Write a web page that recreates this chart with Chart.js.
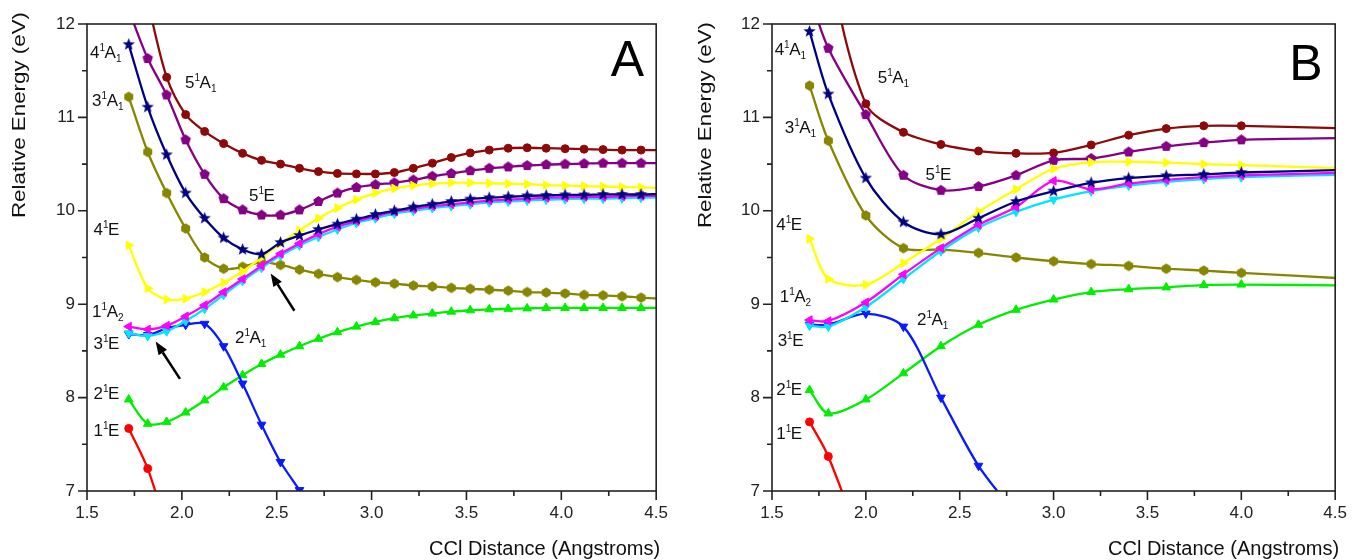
<!DOCTYPE html>
<html>
<head>
<meta charset="utf-8">
<script src="https://cdn.jsdelivr.net/npm/chart.js@4.4.1/dist/chart.umd.min.js"></script>
<style>
  body { margin: 0; background: #fff; }
  #wrap { display: flex; width: 1359px; height: 560px; }
  canvas { display: block; }
</style>
</head>
<body>
<div id="wrap">
  <canvas id="panelA" width="680" height="560"></canvas>
  <canvas id="panelB" width="679" height="560"></canvas>
</div>
<script>
const FONT = "'Liberation Sans', Arial, sans-serif"

// Panel A: C-Cl distance every 0.1 A (last point sits past the axis so curves reach the frame)
const distA = [1.72, 1.82, 1.92, 2.02, 2.12, 2.22, 2.32, 2.42, 2.52, 2.62, 2.72, 2.82, 2.92, 3.02, 3.12, 3.22, 3.32, 3.42, 3.52, 3.62, 3.72, 3.82, 3.92, 4.02, 4.12, 4.22, 4.32, 4.42, 4.52]
const a_1E = [7.67, 7.24, 6.6]
const a_2E = [7.98, 7.72, 7.74, 7.84, 7.97, 8.11, 8.24, 8.36, 8.46, 8.55, 8.63, 8.70, 8.76, 8.81, 8.85, 8.88, 8.90, 8.92, 8.935, 8.945, 8.95, 8.955, 8.96, 8.96, 8.96, 8.96, 8.96, 8.96, 8.96]
const a_3E = [8.69, 8.66, 8.71, 8.82, 8.95, 9.10, 9.25, 9.39, 9.52, 9.63, 9.72, 9.80, 9.87, 9.92, 9.97, 10.00, 10.03, 10.05, 10.07, 10.09, 10.10, 10.11, 10.12, 10.125, 10.13, 10.13, 10.135, 10.14, 10.14]
const a_1A2 = [8.76, 8.73, 8.77, 8.87, 8.99, 9.13, 9.27, 9.41, 9.54, 9.65, 9.75, 9.83, 9.89, 9.94, 9.99, 10.02, 10.05, 10.07, 10.09, 10.11, 10.12, 10.13, 10.14, 10.145, 10.15, 10.15, 10.155, 10.16, 10.16]
const a_2A1 = [8.68, 8.67, 8.74, 8.78, 8.79, 8.55, 8.15, 7.71, 7.31, 7.01, 6.71]
const a_4E = [9.63, 9.17, 9.05, 9.06, 9.13, 9.23, 9.35, 9.50, 9.65, 9.79, 9.92, 10.03, 10.12, 10.19, 10.24, 10.27, 10.29, 10.30, 10.30, 10.295, 10.29, 10.285, 10.275, 10.27, 10.265, 10.26, 10.255, 10.25, 10.245]
const a_3A1 = [11.22, 10.63, 10.19, 9.81, 9.50, 9.38, 9.40, 9.45, 9.42, 9.37, 9.325, 9.29, 9.26, 9.235, 9.22, 9.20, 9.19, 9.175, 9.165, 9.155, 9.145, 9.13, 9.125, 9.115, 9.10, 9.095, 9.085, 9.07, 9.06]
const a_4A1 = [11.78, 11.11, 10.60, 10.19, 9.92, 9.71, 9.585, 9.535, 9.66, 9.735, 9.80, 9.857, 9.91, 9.96, 10.0, 10.04, 10.07, 10.10, 10.125, 10.14, 10.15, 10.16, 10.165, 10.17, 10.17, 10.175, 10.175, 10.175, 10.18]
const a_5E = [12.15, 11.63, 11.24, 10.76, 10.39, 10.13, 10.01, 9.955, 9.955, 10.01, 10.10, 10.19, 10.25, 10.28, 10.30, 10.33, 10.37, 10.40, 10.43, 10.455, 10.47, 10.485, 10.495, 10.50, 10.505, 10.51, 10.51, 10.51, 10.51]
const a_5A1 = [13.2, 12.25, 11.43, 11.03, 10.85, 10.72, 10.615, 10.54, 10.50, 10.455, 10.42, 10.40, 10.395, 10.395, 10.41, 10.455, 10.51, 10.57, 10.62, 10.65, 10.67, 10.675, 10.67, 10.665, 10.66, 10.655, 10.65, 10.65, 10.65]

// Panel B: coarser grid, every 0.2 A after 1.8
const distB = [1.7, 1.8, 2.0, 2.2, 2.4, 2.6, 2.8, 3.0, 3.2, 3.4, 3.6, 3.8, 4.0, 4.6]
const b_1E = [7.74, 7.37, 6.3]
const b_2E = [8.08, 7.83, 7.98, 8.26, 8.55, 8.78, 8.94, 9.05, 9.13, 9.16, 9.18, 9.205, 9.21, 9.20]
const b_3E = [8.77, 8.76, 8.97, 9.27, 9.57, 9.82, 9.99, 10.12, 10.21, 10.27, 10.31, 10.34, 10.36, 10.39]
const b_1A2 = [8.83, 8.82, 9.02, 9.32, 9.60, 9.85, 10.04, 10.32, 10.23, 10.29, 10.33, 10.36, 10.38, 10.41]
const b_2A1 = [8.78, 8.78, 8.90, 8.76, 8.0, 7.27, 6.75]
const b_4E = [9.70, 9.27, 9.21, 9.44, 9.70, 9.99, 10.23, 10.45, 10.52, 10.525, 10.515, 10.50, 10.49, 10.45]
const b_3A1 = [11.34, 10.75, 9.95, 9.60, 9.585, 9.55, 9.50, 9.46, 9.43, 9.41, 9.38, 9.36, 9.335, 9.27]
const b_4A1 = [11.92, 11.25, 10.35, 9.88, 9.75, 9.92, 10.10, 10.21, 10.30, 10.35, 10.375, 10.39, 10.41, 10.44]
const b_5E = [12.3, 11.74, 11.03, 10.38, 10.22, 10.26, 10.38, 10.54, 10.56, 10.63, 10.69, 10.73, 10.76, 10.78]
const b_5A1 = [14.2, 12.7, 11.145, 10.84, 10.71, 10.64, 10.615, 10.62, 10.705, 10.81, 10.88, 10.91, 10.91, 10.88]

// state labels: number, spin superscript, symmetry, subscript
const labelsA = [
  { x: 1.516, y: 11.635, t: ['4', '1', 'A', '1'] },
  { x: 2.017, y: 11.31, t: ['5', '1', 'A', '1'] },
  { x: 1.527, y: 11.12, t: ['3', '1', 'A', '1'] },
  { x: 2.354, y: 10.10, t: ['5', '1', 'E'] },
  { x: 1.534, y: 9.74, t: ['4', '1', 'E'] },
  { x: 1.527, y: 8.86, t: ['1', '1', 'A', '2'] },
  { x: 1.534, y: 8.52, t: ['3', '1', 'E'] },
  { x: 1.534, y: 7.99, t: ['2', '1', 'E'] },
  { x: 1.534, y: 7.59, t: ['1', '1', 'E'] },
  { x: 2.28, y: 8.58, t: ['2', '1', 'A', '1'] }
]
const labelsB = [
  { x: 1.514, y: 11.67, t: ['4', '1', 'A', '1'] },
  { x: 2.063, y: 11.37, t: ['5', '1', 'A', '1'] },
  { x: 1.568, y: 10.83, t: ['3', '1', 'A', '1'] },
  { x: 2.318, y: 10.33, t: ['5', '1', 'E'] },
  { x: 1.523, y: 9.79, t: ['4', '1', 'E'] },
  { x: 1.541, y: 9.02, t: ['1', '1', 'A', '2'] },
  { x: 1.53, y: 8.55, t: ['3', '1', 'E'] },
  { x: 1.523, y: 8.03, t: ['2', '1', 'E'] },
  { x: 1.523, y: 7.56, t: ['1', '1', 'E'] },
  { x: 2.272, y: 8.78, t: ['2', '1', 'A', '1'] }
]
const arrowsA = [
  { from: [2.593, 8.93], to: [2.468, 9.33] },
  { from: [1.99, 8.20], to: [1.862, 8.60] }
]

// filled polygon / star markers as small canvases
function markImg(color, n, r, inner) {
  const c = document.createElement('canvas')
  c.width = c.height = Math.ceil(2 * r + 2)
  const g = c.getContext('2d')
  const pts = inner ? n * 2 : n
  g.fillStyle = color
  g.beginPath()
  for (let i = 0; i < pts; i++) {
    const rr = inner && i % 2 ? r * inner : r
    const ang = -Math.PI / 2 + i * Math.PI * 2 / pts
    g.lineTo(c.width / 2 + rr * Math.cos(ang), c.height / 2 + rr * Math.sin(ang))
  }
  g.closePath()
  g.fill()
  return c
}

const C = {
  red: '#ff0000', green: '#00ee00', cyan: '#00e5ff', magenta: '#ff00ff', blue: '#0a1aff',
  yellow: '#ffff00', olive: '#868600', navy: '#000080', purple: '#850085', maroon: '#8e0a0a'
}
const starImg = markImg(C.navy, 5, 6.5, 0.42)
const pentImg = markImg(C.purple, 5, 5.5)
const hexImg = markImg(C.olive, 6, 5.2)

function series(xs, ys, color, style, rot, r) {
  return {
    data: ys.map((v, i) => ({ x: xs[i], y: v })),
    borderColor: color,
    backgroundColor: color,
    borderWidth: 2.3,
    pointStyle: style,
    pointRotation: rot || 0,
    pointBorderWidth: 1,
    pointRadius: c => (c.raw && c.raw.x > 4.46 ? 0 : (r || 4.5)),
    tension: 0.3
  }
}

function stateLabel(ctx, px, py, t) {
  ctx.fillStyle = '#111'
  ctx.textAlign = 'left'
  ctx.textBaseline = 'alphabetic'
  let cx = px
  ctx.font = `17px ${FONT}`
  ctx.fillText(t[0], cx, py); cx += ctx.measureText(t[0]).width
  ctx.font = `10px ${FONT}`
  ctx.fillText(t[1], cx, py - 7); cx += ctx.measureText(t[1]).width - 0.5
  ctx.font = `17px ${FONT}`
  ctx.fillText(t[2], cx, py); cx += ctx.measureText(t[2]).width
  if (t[3]) {
    ctx.font = `10px ${FONT}`
    ctx.fillText(t[3], cx, py + 4)
  }
}

function arrow(ctx, x0, y0, x1, y1) {
  const ang = Math.atan2(y1 - y0, x1 - x0)
  const head = 13, half = 5
  const bx = x1 - head * Math.cos(ang), by = y1 - head * Math.sin(ang)
  ctx.strokeStyle = '#000'
  ctx.fillStyle = '#000'
  ctx.lineWidth = 2.5
  ctx.beginPath(); ctx.moveTo(x0, y0); ctx.lineTo(bx, by); ctx.stroke()
  ctx.beginPath()
  ctx.moveTo(x1, y1)
  ctx.lineTo(bx + half * Math.sin(ang), by - half * Math.cos(ang))
  ctx.lineTo(bx - half * Math.sin(ang), by + half * Math.cos(ang))
  ctx.closePath()
  ctx.fill()
}

// frame, outward ticks, axis titles, state labels, arrows and panel letter
const decor = {
  id: 'decor',
  afterDatasetsDraw(chart, args, o) {
    const { ctx, chartArea: a, scales: { x, y } } = chart
    ctx.save()
    ctx.strokeStyle = '#222'
    ctx.lineWidth = 1.6
    ctx.strokeRect(a.left, a.top, a.right - a.left, a.bottom - a.top)
    ctx.beginPath()
    x.ticks.forEach((t, i) => {
      const px = x.getPixelForTick(i)
      ctx.moveTo(px, a.bottom); ctx.lineTo(px, a.bottom + (t.label ? 9 : 5))
    })
    y.ticks.forEach((t, i) => {
      const py = y.getPixelForTick(i)
      ctx.moveTo(a.left, py); ctx.lineTo(a.left - (t.label ? 9 : 5), py)
    })
    ctx.stroke()

    // y title, stretched along its length
    ctx.fillStyle = '#111'
    ctx.save()
    ctx.translate(o.yTitleX, o.yTitleTop)
    ctx.rotate(-Math.PI / 2)
    ctx.font = `18px ${FONT}`
    const yt = 'Relative Energy (eV)'
    ctx.scale(206 / ctx.measureText(yt).width, 1)
    ctx.textAlign = 'right'
    ctx.textBaseline = 'middle'
    ctx.fillText(yt, 0, 0)
    ctx.restore()

    ctx.font = `20px ${FONT}`
    ctx.textAlign = 'right'
    ctx.textBaseline = 'alphabetic'
    ctx.fillText('CCl Distance (Angstroms)', a.right + 4, 555)

    o.labels.forEach(l => stateLabel(ctx, x.getPixelForValue(l.x), y.getPixelForValue(l.y), l.t))
    o.arrows.forEach(r => arrow(ctx,
      x.getPixelForValue(r.from[0]), y.getPixelForValue(r.from[1]),
      x.getPixelForValue(r.to[0]), y.getPixelForValue(r.to[1])))

    ctx.fillStyle = '#000'
    ctx.font = `50px ${FONT}`
    ctx.textAlign = 'left'
    ctx.fillText(o.letter, x.getPixelForValue(o.letterAt[0]), y.getPixelForValue(o.letterAt[1]))
    ctx.restore()
  }
}

function makePanel(id, dist, s, opt) {
  const datasets = [
    series(dist, s.e4A1, C.navy, starImg, 0, 4.5),
    series(dist, s.e1A2, C.magenta, 'triangle', -90, 5),
    series(dist, s.e3E, C.cyan, 'triangle', 180, 5),
    series(dist, s.e4E, C.yellow, 'triangle', 90, 5),
    series(dist, s.e2A1, C.blue, 'triangle', 180, 5),
    series(dist, s.e2E, C.green, 'triangle', 0, 5),
    series(dist, s.e3A1, C.olive, hexImg, 0, 4.5),
    series(dist, s.e5E, C.purple, pentImg, 0, 4.5),
    series(dist, s.e5A1, C.maroon, 'circle', 0, 4),
    series(dist, s.e1E, C.red, 'circle', 0, 4)
  ]
  const tickFont = { size: 17, family: FONT }
  new Chart(document.getElementById(id), {
    type: 'line',
    data: { datasets },
    plugins: [decor],
    options: {
      responsive: false,
      animation: false,
      events: [],
      layout: { padding: { top: 24, right: opt.padRight, left: 0, bottom: 0 } },
      plugins: {
        legend: { display: false },
        tooltip: { enabled: false },
        decor: opt
      },
      scales: {
        x: {
          type: 'linear', min: 1.5, max: 4.5,
          afterFit: sc => { sc.height = 69 },
          grid: { display: false, drawTicks: false },
          border: { display: false },
          ticks: {
            stepSize: 0.25, autoSkip: false, maxRotation: 0, padding: 12,
            color: '#222', font: tickFont,
            callback: v => (Math.abs(v * 2 - Math.round(v * 2)) < 1e-6 ? v.toFixed(1) : '')
          }
        },
        y: {
          min: 7, max: 12,
          afterFit: sc => { sc.width = opt.yWidth },
          grid: { display: false, drawTicks: false },
          border: { display: false },
          ticks: {
            stepSize: 0.5, autoSkip: false, padding: 12,
            color: '#222', font: tickFont,
            callback: v => (Math.abs(v - Math.round(v)) < 1e-6 ? String(Math.round(v)) : '')
          }
        }
      }
    }
  })
}

makePanel('panelA', distA, {
  e1E: a_1E, e2E: a_2E, e3E: a_3E, e1A2: a_1A2, e2A1: a_2A1,
  e4E: a_4E, e3A1: a_3A1, e4A1: a_4A1, e5E: a_5E, e5A1: a_5A1
}, {
  yWidth: 87, padRight: 21, yTitleX: 20, yTitleTop: 12,
  labels: labelsA, arrows: arrowsA, letter: 'A', letterAt: [4.26, 11.445]
})

makePanel('panelB', distB, {
  e1E: b_1E, e2E: b_2E, e3E: b_3E, e1A2: b_1A2, e2A1: b_2A1,
  e4E: b_4E, e3A1: b_3A1, e4A1: b_4A1, e5E: b_5E, e5A1: b_5A1
}, {
  yWidth: 92, padRight: 16, yTitleX: 26, yTitleTop: 22,
  labels: labelsB, arrows: [], letter: 'B', letterAt: [4.255, 11.40]
})
</script>
</body>
</html>
